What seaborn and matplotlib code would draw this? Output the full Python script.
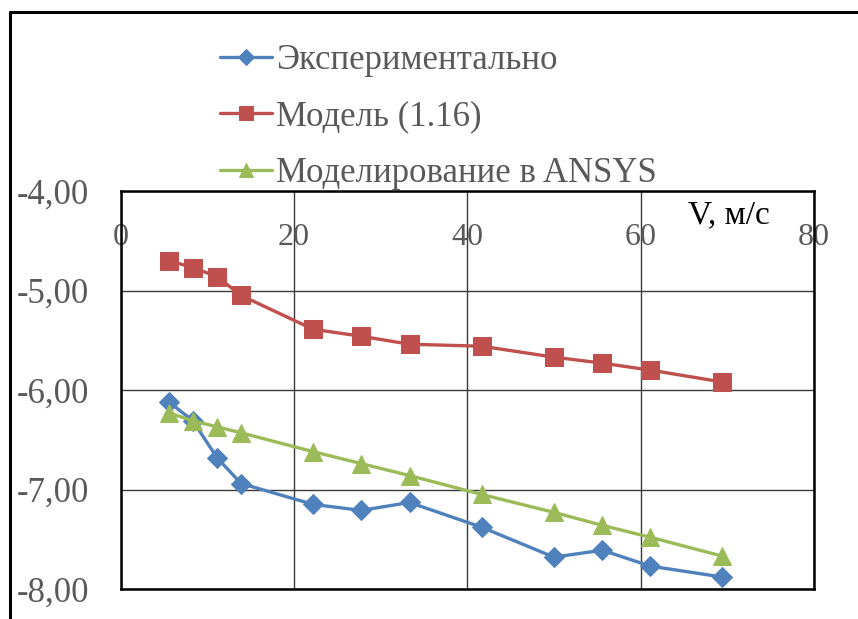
import matplotlib
matplotlib.use("Agg")
import matplotlib.pyplot as plt
import seaborn as sns
import pandas as pd
from matplotlib.ticker import FuncFormatter, MultipleLocator
from matplotlib.lines import Line2D

# ---- data ----
speed = [5.56, 8.33, 11.11, 13.89, 22.22, 27.78, 33.33, 41.67, 50.00, 55.56, 61.11, 69.44]
experiment = [-6.12, -6.31, -6.68, -6.94, -7.15, -7.21, -7.13, -7.38, -7.68, -7.61, -7.77, -7.88]
model_116 = [-4.70, -4.77, -4.86, -5.05, -5.39, -5.46, -5.54, -5.56, -5.67, -5.73, -5.80, -5.92]
ansys = [-6.23, -6.31, -6.37, -6.43, -6.62, -6.74, -6.86, -7.05, -7.23, -7.36, -7.48, -7.67]
series_names = ["Экспериментально", "Модель (1.16)", "Моделирование в ANSYS"]
x_label = "V, м/с"

colors = ["#4F81BD", "#C0504D", "#9BBB59"]
markers = ["D", "s", "^"]
msizes = [10.5, 12.5, 12.5]

sns.set_style("white")
plt.rcParams["font.family"] = ["Liberation Serif", "DejaVu Serif"]

W, H = 858, 619
fig = plt.figure(figsize=(W / 100, H / 100), dpi=100)
left, right, top, bottom = 120.7, 814, 191, 589
ax = fig.add_axes([left / W, 1 - bottom / H, (right - left) / W, (bottom - top) / H])

for name, vals, c, m, ms in zip(series_names, [experiment, model_116, ansys], colors, markers, msizes):
    df = pd.DataFrame({"V": speed, "val": vals})
    sns.lineplot(data=df, x="V", y="val", ax=ax, color=c, marker=m, markersize=ms,
                 markeredgecolor=c, linewidth=2.4, label=name)

ax.set_xlim(0, 80)
ax.set_ylim(-8, -4)
ax.xaxis.set_major_locator(MultipleLocator(20))
ax.yaxis.set_major_locator(MultipleLocator(1))
ax.yaxis.set_major_formatter(FuncFormatter(lambda v, p: f"{v:.2f}".replace(".", ",")))
ax.xaxis.set_major_formatter(FuncFormatter(lambda v, p: f"{v:.0f}"))
ax.grid(True, color="#3a3a3a", linewidth=1.0)
ax.set_axisbelow(True)
for s in ax.spines.values():
    s.set_visible(True)
    s.set_color("black")
    s.set_linewidth(1.8)

ax.xaxis.tick_top()
ax.tick_params(axis="x", which="both", top=False, bottom=False, labeltop=True, labelbottom=False,
               pad=-44, labelsize=23, labelcolor="#595959", length=0)
ax.tick_params(axis="y", length=0, pad=23, labelsize=25, labelcolor="#595959")
ax.set_xlabel("")
ax.set_ylabel("")
ax.text(0.877, 0.94, x_label, transform=ax.transAxes, ha="center", va="center",
        fontsize=24, color="black")

leg = ax.legend(loc="upper left", bbox_to_anchor=(206 / W, 1 - 30 / H), bbox_transform=fig.transFigure,
                frameon=False, fontsize=25, handlelength=1.5, handletextpad=0.12,
                labelspacing=0.68, markerscale=0.75, borderaxespad=0)
for t in leg.get_texts():
    t.set_color("#595959")

# figure border (left and top edges visible)
fig.add_artist(Line2D([10 / W, 10 / W], [0, 1 - 12 / H], transform=fig.transFigure, color="black", linewidth=2.2))
fig.add_artist(Line2D([10 / W, 1], [1 - 12 / H, 1 - 12 / H], transform=fig.transFigure, color="black", linewidth=2.2))

fig.savefig("out.png", dpi=100)
